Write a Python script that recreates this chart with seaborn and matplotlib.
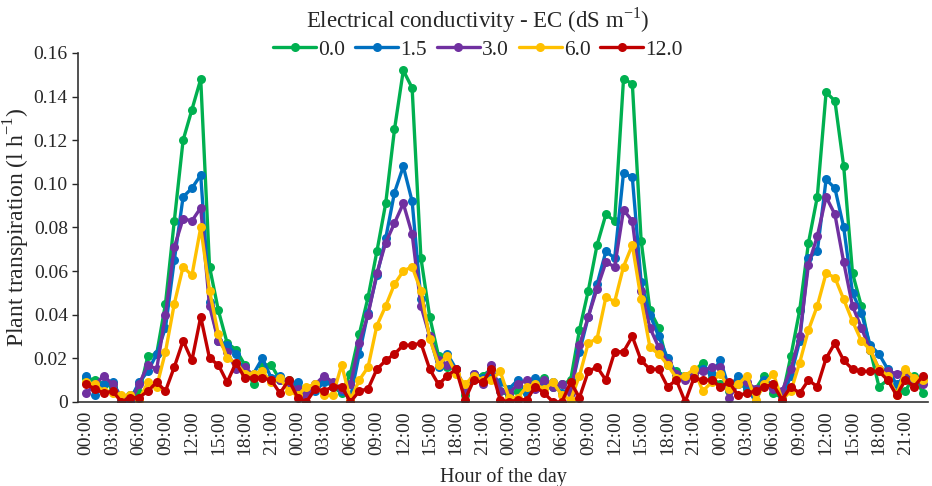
import matplotlib
matplotlib.use("Agg")
import matplotlib.pyplot as plt
import seaborn as sns
import numpy as np
import pandas as pd

# hourly transpiration over 4 days, one list per EC level
ec_levels = ["0.0", "1.5", "3.0", "6.0", "12.0"]
colors = ["#00B050", "#0070C0", "#7030A0", "#FFC000", "#C00000"]

ec_00 = [
    0.011, 0.010, 0.008, 0.007, 0.001, 0.003, 0.004, 0.021, 0.022, 0.045, 0.083, 0.120,
    0.134, 0.148, 0.062, 0.042, 0.027, 0.024, 0.017, 0.008, 0.017, 0.017, 0.010, 0.010,
    0.007, 0.005, 0.006, 0.010, 0.007, 0.004, 0.013, 0.031, 0.048, 0.069, 0.091, 0.125,
    0.152, 0.144, 0.066, 0.039, 0.021, 0.016, 0.015, 0.003, 0.012, 0.012, 0.015, 0.005,
    0.003, 0.005, 0.004, 0.009, 0.011, 0.007, 0.008, 0.010, 0.033, 0.051, 0.072, 0.086,
    0.083, 0.148, 0.146, 0.074, 0.042, 0.034, 0.017, 0.014, 0.012, 0.014, 0.018, 0.011,
    0.008, 0.005, 0.009, 0.006, 0.006, 0.012, 0.004, 0.002, 0.021, 0.042, 0.073, 0.094,
    0.142, 0.138, 0.108, 0.059, 0.044, 0.024, 0.007, 0.010, 0.004, 0.005, 0.012, 0.004,
]
ec_15 = [
    0.012, 0.003, 0.008, 0.009, 0.002, 0.001, 0.009, 0.014, 0.022, 0.034, 0.065, 0.094,
    0.098, 0.104, 0.046, 0.028, 0.026, 0.022, 0.013, 0.013, 0.020, 0.011, 0.012, 0.009,
    0.009, 0.003, 0.005, 0.009, 0.008, 0.005, 0.002, 0.022, 0.041, 0.058, 0.075, 0.096,
    0.108, 0.092, 0.047, 0.030, 0.016, 0.022, 0.015, 0.005, 0.013, 0.011, 0.012, 0.009,
    0.006, 0.010, 0.004, 0.011, 0.008, 0.009, 0.004, 0.005, 0.023, 0.039, 0.054, 0.069,
    0.066, 0.105, 0.103, 0.055, 0.040, 0.030, 0.020, 0.013, 0.012, 0.013, 0.015, 0.013,
    0.019, 0.006, 0.012, 0.007, 0.000, 0.010, 0.008, 0.002, 0.012, 0.028, 0.066, 0.069,
    0.102, 0.098, 0.080, 0.050, 0.041, 0.026, 0.022, 0.015, 0.008, 0.012, 0.010, 0.011,
]
ec_30 = [
    0.004, 0.008, 0.012, 0.008, 0.002, 0.000, 0.008, 0.017, 0.015, 0.040, 0.071, 0.084,
    0.083, 0.089, 0.044, 0.028, 0.023, 0.015, 0.016, 0.012, 0.012, 0.010, 0.010, 0.008,
    0.006, 0.003, 0.008, 0.012, 0.009, 0.006, 0.008, 0.027, 0.040, 0.059, 0.073, 0.082,
    0.091, 0.077, 0.044, 0.030, 0.019, 0.017, 0.015, 0.006, 0.013, 0.008, 0.017, 0.005,
    0.004, 0.008, 0.010, 0.006, 0.010, 0.007, 0.008, 0.004, 0.026, 0.039, 0.052, 0.064,
    0.062, 0.088, 0.083, 0.051, 0.034, 0.025, 0.018, 0.013, 0.010, 0.013, 0.014, 0.016,
    0.016, 0.002, 0.008, 0.009, 0.006, 0.008, 0.006, 0.005, 0.015, 0.030, 0.063, 0.076,
    0.094, 0.086, 0.064, 0.044, 0.034, 0.024, 0.015, 0.014, 0.013, 0.014, 0.010, 0.008,
]
ec_60 = [
    0.009, 0.008, 0.005, 0.004, 0.003, 0.003, 0.001, 0.009, 0.007, 0.023, 0.045, 0.062,
    0.058, 0.080, 0.051, 0.031, 0.020, 0.018, 0.013, 0.013, 0.014, 0.009, 0.011, 0.005,
    0.003, 0.007, 0.008, 0.003, 0.003, 0.017, 0.001, 0.010, 0.016, 0.035, 0.044, 0.054,
    0.060, 0.062, 0.051, 0.029, 0.017, 0.021, 0.013, 0.008, 0.012, 0.010, 0.010, 0.014,
    0.002, 0.002, 0.007, 0.008, 0.006, 0.009, 0.003, 0.001, 0.012, 0.027, 0.029, 0.048,
    0.046, 0.062, 0.072, 0.047, 0.025, 0.022, 0.017, 0.011, 0.012, 0.015, 0.005, 0.009,
    0.013, 0.006, 0.008, 0.012, 0.001, 0.008, 0.013, 0.001, 0.005, 0.018, 0.033, 0.044,
    0.059, 0.057, 0.047, 0.037, 0.028, 0.024, 0.015, 0.012, 0.003, 0.015, 0.011, 0.010,
]
ec_120 = [
    0.008, 0.006, 0.004, 0.005, 0.000, 0.002, 0.002, 0.005, 0.009, 0.005, 0.016, 0.028,
    0.019, 0.039, 0.020, 0.017, 0.009, 0.018, 0.011, 0.011, 0.011, 0.010, 0.004, 0.010,
    0.002, 0.000, 0.006, 0.005, 0.007, 0.007, 0.000, 0.005, 0.006, 0.015, 0.019, 0.022,
    0.026, 0.026, 0.027, 0.015, 0.008, 0.012, 0.015, 0.001, 0.010, 0.009, 0.015, 0.001,
    0.000, 0.001, 0.001, 0.007, 0.004, 0.000, 0.000, 0.009, 0.002, 0.014, 0.016, 0.010,
    0.023, 0.023, 0.030, 0.019, 0.015, 0.015, 0.007, 0.010, 0.000, 0.011, 0.010, 0.010,
    0.007, 0.009, 0.003, 0.004, 0.005, 0.007, 0.008, 0.001, 0.007, 0.004, 0.010, 0.007,
    0.020, 0.027, 0.019, 0.015, 0.014, 0.014, 0.014, 0.010, 0.003, 0.010, 0.007, 0.012,
]

hour_labels = ["00:00", "03:00", "06:00", "09:00", "12:00", "15:00", "18:00", "21:00"] * 4
y_ticks = [0, 0.02, 0.04, 0.06, 0.08, 0.10, 0.12, 0.14, 0.16]
y_tick_labels = ["0", "0.02", "0.04", "0.06", "0.08", "0.10", "0.12", "0.14", "0.16"]

series = [ec_00, ec_15, ec_30, ec_60, ec_120]
hours = np.arange(len(ec_00))
df = pd.concat(
    [pd.DataFrame({"Hour": hours, "Transpiration": vals, "EC": lvl})
     for lvl, vals in zip(ec_levels, series)],
    ignore_index=True,
)

sns.set_style("ticks")
plt.rcParams["font.family"] = ["Liberation Serif", "DejaVu Serif"]
plt.rcParams["mathtext.fontset"] = "custom"
plt.rcParams["mathtext.rm"] = "Liberation Serif"

fig = plt.figure(figsize=(9.32, 4.86), dpi=100)
ax = fig.add_axes([0.084, 0.173, 0.912, 0.718])

sns.lineplot(data=df, x="Hour", y="Transpiration", hue="EC", hue_order=ec_levels,
             palette=colors, marker="o", markersize=6.5, markeredgewidth=0,
             linewidth=2.4, ax=ax, legend=True)

ax.set_xlim(-0.9, 95.6)
ax.set_ylim(0, 0.16)
ax.set_xticks(np.arange(0, 96, 3))
ax.set_xticklabels(hour_labels, rotation=90, fontsize=14)
ax.set_yticks(y_ticks)
ax.set_yticklabels(y_tick_labels, fontsize=14)
ax.tick_params(axis="x", length=0, pad=6)
ax.tick_params(axis="y", length=4, width=1, direction="out")
ax.set_xlabel("Hour of the day", fontsize=14.5, labelpad=9)
ax.set_ylabel(r"Plant transpiration (l h$^{\mathregular{-1}}$)", fontsize=17, labelpad=1)
sns.despine(ax=ax)
for s in ["left", "bottom"]:
    ax.spines[s].set_linewidth(1.2)
    ax.spines[s].set_color("#333333")

handles, labels = ax.get_legend_handles_labels()
ax.get_legend().remove()
fig.legend(handles, labels, loc="upper center", bbox_to_anchor=(0.513, 1.015), ncol=5,
           frameon=False, fontsize=15.5, title=r"Electrical conductivity - EC (dS m$^{\mathregular{-1}}$)",
           title_fontsize=16.5, handlelength=2.0, handletextpad=0.1, columnspacing=0.45,
           borderaxespad=0.2, labelspacing=0.2)

fig.savefig("out.png", dpi=100)
